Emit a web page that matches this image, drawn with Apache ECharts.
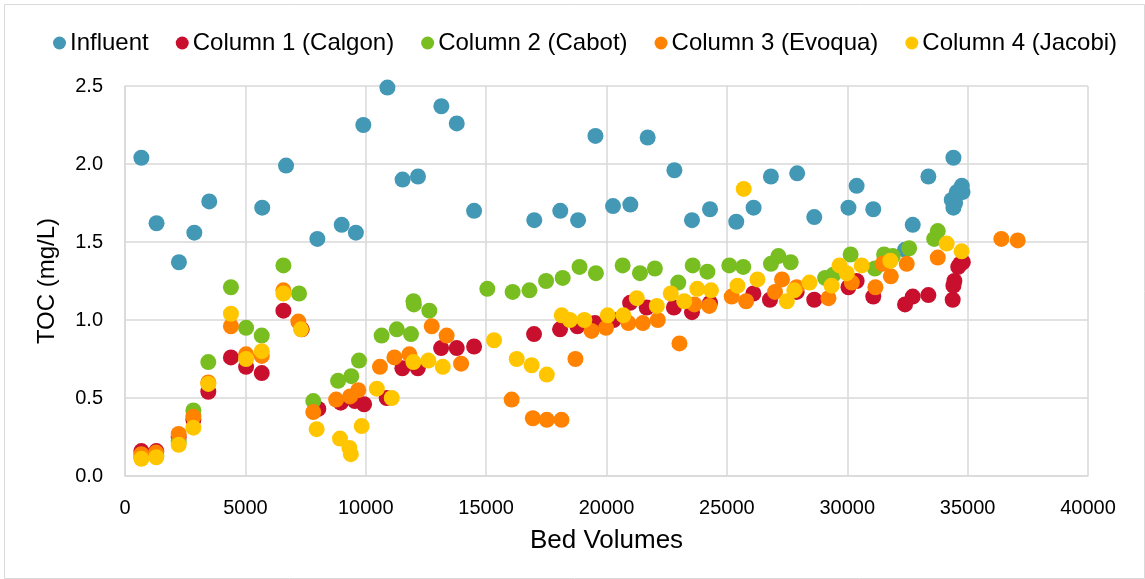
<!DOCTYPE html>
<html>
<head>
<meta charset="utf-8">
<script src="https://cdn.jsdelivr.net/npm/echarts@6/dist/echarts.min.js"></script>
<style>
  html, body { margin: 0; padding: 0; background: #ffffff; }
  #chart { width: 1145px; height: 579px; }
</style>
</head>
<body>
<div id="chart"></div>
<script>
// TOC breakthrough by bed volumes: influent and four carbon columns
const seriesNames = ['Influent', 'Column 1 (Calgon)', 'Column 2 (Cabot)', 'Column 3 (Evoqua)', 'Column 4 (Jacobi)'];
const seriesColors = ['#4398B6', '#C8102E', '#78BE20', '#FF8200', '#FFC600'];

const influent = [
  [680, 2.04], [1310, 1.62], [2240, 1.37], [2880, 1.56], [3500, 1.76], [5700, 1.72], [6690, 1.99],
  [7990, 1.52], [9000, 1.61], [9590, 1.56], [9900, 2.25], [10900, 2.49], [11530, 1.90], [12170, 1.92],
  [13140, 2.37], [13780, 2.26], [14500, 1.70], [17000, 1.64], [18080, 1.70], [18820, 1.64], [19540, 2.18],
  [20270, 1.73], [20990, 1.74], [21710, 2.17], [22820, 1.96], [23550, 1.64], [24300, 1.71], [25390, 1.63],
  [26110, 1.72], [26830, 1.92], [27920, 1.94], [28630, 1.66], [30050, 1.72], [30390, 1.86], [31080, 1.71],
  [32400, 1.45], [32720, 1.61], [33370, 1.92], [34410, 2.04], [34340, 1.77], [34410, 1.72], [34480, 1.75],
  [34550, 1.82], [34760, 1.86], [34790, 1.82]
];

const column1 = [
  [680, 0.16], [1300, 0.16], [2230, 0.25], [2840, 0.36], [3460, 0.54], [4400, 0.76], [5030, 0.70],
  [5680, 0.66], [6580, 1.06], [7340, 0.94], [8030, 0.43], [8960, 0.47], [9550, 0.48], [9930, 0.46],
  [10870, 0.50], [11520, 0.69], [12160, 0.69], [13130, 0.82], [13780, 0.82], [14500, 0.83], [16990, 0.91],
  [18070, 0.94], [18790, 0.96], [19520, 0.98], [20290, 1.00], [20980, 1.11], [21670, 1.08], [22800, 1.08],
  [23550, 1.05], [24300, 1.11], [26100, 1.17], [26790, 1.13], [27900, 1.18], [28630, 1.13], [30050, 1.21],
  [30390, 1.25], [31080, 1.15], [32400, 1.10], [32720, 1.15], [33370, 1.16], [34380, 1.13], [34410, 1.22],
  [34450, 1.25], [34610, 1.34], [34690, 1.36], [34800, 1.37]
];

const column2 = [
  [680, 0.12], [1300, 0.13], [2230, 0.22], [2840, 0.42], [3460, 0.73], [4400, 1.21], [5030, 0.95],
  [5680, 0.90], [6580, 1.35], [7230, 1.17], [7820, 0.48], [8850, 0.61], [9400, 0.64], [9720, 0.74],
  [10660, 0.90], [11290, 0.94], [11880, 0.91], [11980, 1.12], [12000, 1.10], [12640, 1.06], [15050, 1.20],
  [16100, 1.18], [16800, 1.19], [17490, 1.25], [18180, 1.27], [18880, 1.34], [19560, 1.30], [20670, 1.35],
  [21390, 1.30], [22010, 1.33], [22980, 1.24], [23580, 1.35], [24190, 1.31], [25100, 1.35], [25680, 1.34],
  [26830, 1.36], [27140, 1.41], [27650, 1.37], [29080, 1.27], [29420, 1.29], [30140, 1.42], [31150, 1.33],
  [31530, 1.42], [31890, 1.41], [32570, 1.46], [33610, 1.52], [33760, 1.57]
];

const column3 = [
  [680, 0.14], [1290, 0.15], [2230, 0.27], [2840, 0.38], [3460, 0.60], [4400, 0.96], [5030, 0.78],
  [5680, 0.77], [6580, 1.19], [7200, 0.99], [7820, 0.41], [8770, 0.49], [9350, 0.51], [9690, 0.55],
  [10590, 0.70], [11190, 0.76], [11810, 0.78], [12740, 0.96], [13360, 0.90], [13960, 0.72], [16060, 0.49],
  [16940, 0.37], [17520, 0.36], [18130, 0.36], [18710, 0.75], [19380, 0.93], [19980, 0.95], [20910, 0.98],
  [21510, 0.98], [22130, 1.00], [23030, 0.85], [23650, 1.10], [24270, 1.09], [25200, 1.15], [25800, 1.12],
  [27000, 1.18], [27290, 1.26], [27900, 1.21], [29220, 1.14], [30190, 1.24], [31170, 1.21], [31470, 1.36],
  [31810, 1.28], [32470, 1.36], [33760, 1.40], [36400, 1.52], [37080, 1.51]
];

const column4 = [
  [680, 0.11], [1300, 0.12], [2230, 0.20], [2840, 0.31], [3460, 0.59], [4400, 1.04], [5030, 0.75],
  [5680, 0.80], [6580, 1.17], [7310, 0.94], [7960, 0.30], [8930, 0.24], [9320, 0.18], [9380, 0.14],
  [9830, 0.32], [10460, 0.56], [11080, 0.50], [11980, 0.73], [12600, 0.74], [13200, 0.70], [15330, 0.87],
  [16270, 0.75], [16890, 0.71], [17520, 0.65], [18140, 1.03], [18480, 1.00], [19080, 1.00], [20050, 1.03],
  [20700, 1.03], [21260, 1.14], [22090, 1.09], [22670, 1.17], [23230, 1.12], [23770, 1.20], [24340, 1.19],
  [25440, 1.22], [25700, 1.84], [26270, 1.26], [27490, 1.12], [27800, 1.19], [28430, 1.24], [29350, 1.22],
  [29680, 1.35], [29980, 1.30], [30600, 1.35], [31790, 1.38], [34130, 1.49], [34750, 1.44]
];

const seriesData = [influent, column1, column2, column3, column4];

const FONT = '"Liberation Sans", Arial, sans-serif';
const gridColor = '#d9d9d9';

const chart = echarts.init(document.getElementById('chart'), null, { renderer: 'canvas' });

chart.setOption({
  animation: false,
  backgroundColor: '#ffffff',
  textStyle: { fontFamily: FONT },
  graphic: [{
    type: 'rect',
    left: 2, top: 2,
    shape: { width: 1140, height: 574 },
    style: { fill: 'none', stroke: '#d9d9d9', lineWidth: 1 },
    silent: true
  }],
  legend: {
    left: 48,
    top: 26,
    itemGap: 27,
    itemWidth: 13,
    itemHeight: 13,
    icon: 'circle',
    textStyle: { fontFamily: FONT, fontSize: 24, color: '#000000', padding: [0, 0, 0, -1] },
    data: seriesNames
  },
  grid: { left: 125, right: 57, top: 86, bottom: 103, containLabel: false },
  xAxis: {
    type: 'value',
    min: 0, max: 40000, interval: 5000,
    name: 'Bed Volumes',
    nameLocation: 'middle',
    nameGap: 52,
    nameTextStyle: { fontFamily: FONT, fontSize: 26, color: '#000000' },
    axisLine: { show: true, lineStyle: { color: gridColor, width: 1.5 } },
    axisTick: { show: false },
    axisLabel: { fontFamily: FONT, fontSize: 20, color: '#000000', margin: 22, formatter: v => String(v) },
    splitLine: { show: true, lineStyle: { color: gridColor, width: 1.5 } }
  },
  yAxis: {
    type: 'value',
    min: 0, max: 2.5, interval: 0.5,
    name: 'TOC (mg/L)',
    nameLocation: 'middle',
    nameGap: 66,
    nameTextStyle: { fontFamily: FONT, fontSize: 24, color: '#000000' },
    axisLine: { show: true, lineStyle: { color: gridColor, width: 1.5 } },
    axisTick: { show: false },
    axisLabel: { fontFamily: FONT, fontSize: 20, color: '#000000', margin: 22, formatter: v => v.toFixed(1) },
    splitLine: { show: true, lineStyle: { color: gridColor, width: 1.5 } }
  },
  series: seriesNames.map((name, i) => ({
    name: name,
    type: 'scatter',
    data: seriesData[i],
    symbol: 'circle',
    symbolSize: 16,
    itemStyle: { color: seriesColors[i], opacity: 1 },
    z: 2 + i
  }))
});
</script>
</body>
</html>
